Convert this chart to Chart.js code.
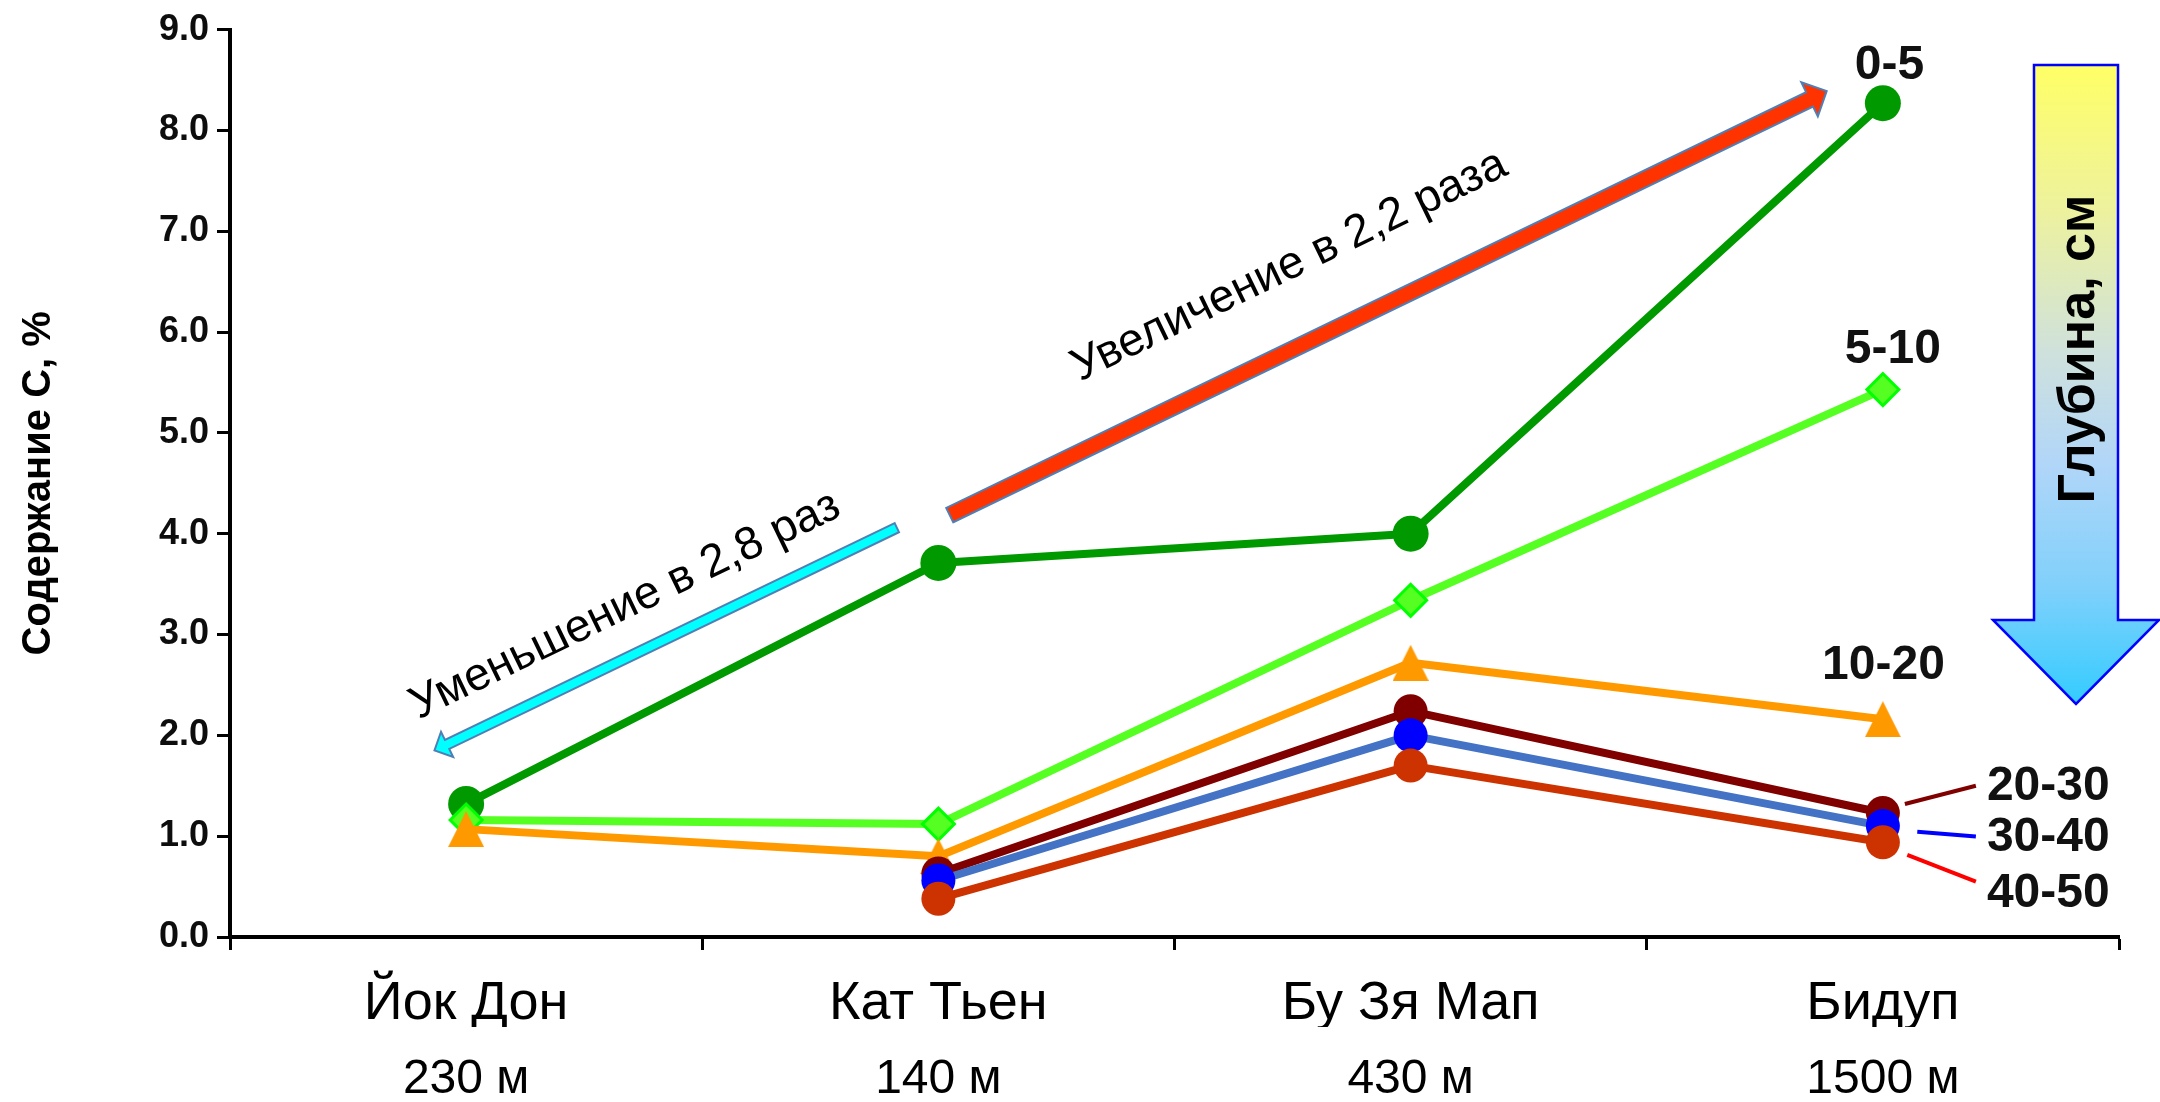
<!DOCTYPE html>
<html>
<head>
<meta charset="utf-8">
<script src="https://cdn.jsdelivr.net/npm/chart.js@4/dist/chart.umd.min.js"></script>
<style>
  html, body { margin: 0; padding: 0; background: #ffffff; }
  #wrap { width: 2160px; height: 1102px; }
  canvas { display: block; }
</style>
</head>
<body>
<div id="wrap"><canvas id="chart" width="2160" height="1102"></canvas></div>
<script>
// Sites (x categories) and their altitudes
const sites = ['Йок Дон', 'Кат Тьен', 'Бу Зя Мап', 'Бидуп'];
const altitudes = ['230 м', '140 м', '430 м', '1500 м'];

// Soil depth layers, cm
const depthLabels = ['0-5', '5-10', '10-20', '20-30', '30-40', '40-50'];

// Carbon content, % (one array per depth layer)
const carbon0_5   = [1.32, 3.71, 4.00, 8.27];
const carbon5_10  = [1.16, 1.12, 3.34, 5.43];
const carbon10_20 = [1.07, 0.80, 2.72, 2.16];
const carbon20_30 = [null, 0.63, 2.24, 1.23];
const carbon30_40 = [null, 0.56, 2.00, 1.10];
const carbon40_50 = [null, 0.38, 1.70, 0.94];

// Value axis
const yMin = 0;
const yMax = 9;
const yStep = 1;

// Annotation texts
const decreaseText = 'Уменьшение в 2,8 раз';
const increaseText = 'Увеличение в 2,2 раза';
const depthArrowText = 'Глубина, см';

const FONT = '"Liberation Sans", Arial, Helvetica, sans-serif';

// Triangle marker drawn into a small canvas so it sits centred on its box
function triangleMarker(w, h, color) {
  const cv = document.createElement('canvas');
  cv.width = w; cv.height = h;
  const g = cv.getContext('2d');
  g.fillStyle = color;
  g.beginPath();
  g.moveTo(w / 2, 0);
  g.lineTo(w, h);
  g.lineTo(0, h);
  g.closePath();
  g.fill();
  return cv;
}

const seriesValues = [carbon0_5, carbon5_10, carbon10_20, carbon20_30, carbon30_40, carbon40_50];
const seriesStyles = [
  { line: '#009900', fill: '#009900', border: '#009900', style: 'circle', r: 18, bw: 0 },
  { line: '#55ff22', fill: '#55ff22', border: '#00ff00', style: 'rectRot', r: 16, bw: 3 },
  { line: '#ff9900', fill: '#ff9900', border: '#ff9900', style: triangleMarker(36, 36, '#ff9900'), r: 18, bw: 0 },
  { line: '#800000', fill: '#800000', border: '#800000', style: 'circle', r: 17, bw: 0 },
  { line: '#4472c4', fill: '#0000ff', border: '#0000ff', style: 'circle', r: 17, bw: 0 },
  { line: '#cc3300', fill: '#cc3300', border: '#cc3300', style: 'circle', r: 17, bw: 0 }
];

const datasets = seriesValues.map((vals, i) => ({
  label: depthLabels[i],
  data: vals,
  borderColor: seriesStyles[i].line,
  borderWidth: 8,
  borderJoinStyle: 'round',
  borderCapStyle: 'round',
  tension: 0,
  pointStyle: seriesStyles[i].style,
  pointRadius: seriesStyles[i].r,
  pointHoverRadius: seriesStyles[i].r,
  pointBackgroundColor: seriesStyles[i].fill,
  pointBorderColor: seriesStyles[i].border,
  pointBorderWidth: seriesStyles[i].bw,
  order: seriesValues.length - i,
  fill: false
}));

// Filled block arrow between two pixel points
function blockArrow(ctx, tail, tip, shaftW, headW, headL, fill, stroke, lw) {
  const dx = tip[0] - tail[0], dy = tip[1] - tail[1];
  const len = Math.hypot(dx, dy);
  const ux = dx / len, uy = dy / len, nx = -uy, ny = ux;
  const bx = tip[0] - ux * headL, by = tip[1] - uy * headL;
  ctx.beginPath();
  ctx.moveTo(tail[0] + nx * shaftW / 2, tail[1] + ny * shaftW / 2);
  ctx.lineTo(bx + nx * shaftW / 2, by + ny * shaftW / 2);
  ctx.lineTo(bx + nx * headW / 2, by + ny * headW / 2);
  ctx.lineTo(tip[0], tip[1]);
  ctx.lineTo(bx - nx * headW / 2, by - ny * headW / 2);
  ctx.lineTo(bx - nx * shaftW / 2, by - ny * shaftW / 2);
  ctx.lineTo(tail[0] - nx * shaftW / 2, tail[1] - ny * shaftW / 2);
  ctx.closePath();
  ctx.fillStyle = fill;
  ctx.fill();
  ctx.lineWidth = lw;
  ctx.strokeStyle = stroke;
  ctx.lineJoin = 'miter';
  ctx.stroke();
}

const decorPlugin = {
  id: 'decor',
  afterDraw(chart) {
    const ctx = chart.ctx;
    const xs = chart.scales.x, ys = chart.scales.y;
    const P = (i, v) => [xs.getPixelForValue(i), ys.getPixelForValue(v)];
    ctx.save();

    // Trend arrows (positions in category-index / value units)
    const decTail = P(0.912, 4.06), decTip = P(-0.067, 1.85);
    blockArrow(ctx, decTail, decTip, 10, 28, 14, '#00ffff', '#4f7fb5', 2);
    const incTail = P(1.024, 4.185), incTip = P(2.881, 8.39);
    blockArrow(ctx, incTail, incTip, 16, 38, 19, '#ff3300', '#4f7fb5', 2);

    // Arrow captions, rotated along the arrows
    ctx.fillStyle = '#000000';
    ctx.font = '46px ' + FONT;
    ctx.textAlign = 'left';
    ctx.textBaseline = 'alphabetic';
    const decAng = Math.atan2(decTail[1] - decTip[1], decTail[0] - decTip[0]);
    let p = P(-0.101, 2.157);
    ctx.save(); ctx.translate(p[0], p[1]); ctx.rotate(decAng); ctx.fillText(decreaseText, 0, 0); ctx.restore();
    const incAng = Math.atan2(incTip[1] - incTail[1], incTip[0] - incTail[0]);
    p = P(1.30, 5.51);
    ctx.save(); ctx.translate(p[0], p[1]); ctx.rotate(incAng); ctx.fillText(increaseText, 0, 0); ctx.restore();

    // Depth arrow on the right
    const W = chart.width;
    const top = 65, headY = 620, tipY = 704;
    const cx = W - 84, shaftHalf = 42, headHalf = 83;
    const grad = ctx.createLinearGradient(0, top, 0, tipY);
    grad.addColorStop(0, '#ffff66');
    grad.addColorStop(0.22, '#eef29c');
    grad.addColorStop(0.45, '#cfe1dc');
    grad.addColorStop(0.62, '#b2d6f8');
    grad.addColorStop(0.82, '#7fd0fb');
    grad.addColorStop(1, '#33ccff');
    ctx.beginPath();
    ctx.moveTo(cx - shaftHalf, top);
    ctx.lineTo(cx + shaftHalf, top);
    ctx.lineTo(cx + shaftHalf, headY);
    ctx.lineTo(cx + headHalf, headY);
    ctx.lineTo(cx, tipY);
    ctx.lineTo(cx - headHalf, headY);
    ctx.lineTo(cx - shaftHalf, headY);
    ctx.closePath();
    ctx.fillStyle = grad;
    ctx.fill();
    ctx.strokeStyle = '#0000ff';
    ctx.lineWidth = 2.5;
    ctx.stroke();
    ctx.save();
    ctx.translate(cx + 4, 349);
    ctx.rotate(-Math.PI / 2);
    ctx.fillStyle = '#000000';
    ctx.font = 'bold 52px ' + FONT;
    ctx.textAlign = 'center';
    ctx.textBaseline = 'middle';
    ctx.fillText(depthArrowText, 0, 0);
    ctx.restore();

    // Depth labels next to the last point of each series
    const last = (di) => chart.getDatasetMeta(di).data[3];
    ctx.font = 'bold 48px ' + FONT;
    ctx.fillStyle = '#111111';
    ctx.textBaseline = 'alphabetic';
    const centred = [[0, 6.6, -24.7], [1, 10, -26.7], [2, 0.6, -40]];
    ctx.textAlign = 'center';
    centred.forEach(([di, dx, dy]) => {
      const pt = last(di);
      ctx.fillText(depthLabels[di], pt.x + dx, pt.y + dy);
    });
    const leaders = [
      [3, '#800000', [22, -9], [93, -27.3], -13.3],
      [4, '#0000ff', [34.4, 5.7], [93, 10.4], 24.7],
      [5, '#ff0000', [24.4, 12.7], [93, 39.4], 65]
    ];
    ctx.textAlign = 'left';
    leaders.forEach(([di, col, a, b, dy]) => {
      const pt = last(di);
      ctx.beginPath();
      ctx.moveTo(pt.x + a[0], pt.y + a[1]);
      ctx.lineTo(pt.x + b[0], pt.y + b[1]);
      ctx.strokeStyle = col;
      ctx.lineWidth = 4;
      ctx.lineCap = 'butt';
      ctx.stroke();
      ctx.fillStyle = '#111111';
      ctx.fillText(depthLabels[di], pt.x + 104, pt.y + dy);
    });

    ctx.restore();
  }
};

new Chart(document.getElementById('chart'), {
  type: 'line',
  data: { labels: sites, datasets: datasets },
  plugins: [decorPlugin],
  options: {
    responsive: false,
    animation: false,
    devicePixelRatio: 1,
    layout: { padding: { top: 25, right: 41, bottom: 0, left: 0 } },
    plugins: {
      legend: { display: false },
      tooltip: { enabled: false }
    },
    scales: {
      x: {
        type: 'category',
        position: 'bottom',
        offset: true,
        grid: {
          display: true, offset: true, drawOnChartArea: false, drawTicks: true,
          tickLength: 13, tickWidth: 3, tickColor: '#000000'
        },
        border: { display: true, color: '#000000', width: 4 },
        ticks: {
          autoSkip: false, maxRotation: 0, minRotation: 0, padding: 22,
          color: '#000000', font: { family: FONT, size: 54 }
        },
        afterFit(s) { s.height = 90; }
      },
      x2: {
        type: 'category',
        position: 'bottom',
        labels: altitudes,
        offset: true,
        grid: { display: false, drawTicks: false },
        border: { display: false },
        ticks: {
          autoSkip: false, maxRotation: 0, minRotation: 0, padding: 24,
          color: '#000000', font: { family: FONT, size: 48 }
        },
        afterFit(s) { s.height = 75; }
      },
      y: {
        min: yMin,
        max: yMax,
        grid: {
          display: true, drawOnChartArea: false, drawTicks: true,
          tickLength: 13, tickWidth: 3, tickColor: '#000000'
        },
        border: { display: true, color: '#000000', width: 4 },
        ticks: {
          stepSize: yStep, padding: 8, color: '#0d0d0d',
          font: { family: FONT, size: 36, weight: 'bold' },
          callback: (v) => Number(v).toFixed(1)
        },
        title: {
          display: true,
          text: 'Содержание С, %',
          color: '#000000',
          font: { family: FONT, size: 40, weight: 'bold' },
          padding: { top: 15, bottom: 0 }
        },
        afterFit(s) { s.width = 230; }
      }
    }
  }
});
</script>
</body>
</html>
